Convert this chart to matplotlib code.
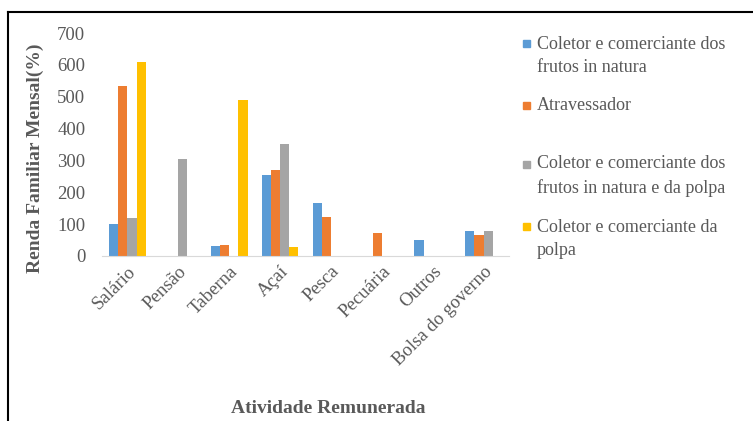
import matplotlib.pyplot as plt
import numpy as np
from matplotlib.lines import Line2D
from matplotlib.patches import Rectangle

plt.rcParams['font.family'] = ['Liberation Serif', 'DejaVu Serif']

categorias = ['Salário', 'Pensão', 'Taberna', 'Açaí', 'Pesca', 'Pecuária', 'Outros', 'Bolsa do governo']
series = ['Coletor e comerciante dos\nfrutos in natura',
          'Atravessador',
          'Coletor e comerciante dos\nfrutos in natura e da polpa',
          'Coletor e comerciante da\npolpa']
in_natura = [100, 0, 31, 253, 165, 0, 50, 78]
atravessador = [533, 0, 36, 271, 122, 73, 0, 66]
natura_polpa = [119, 304, 0, 353, 0, 0, 0, 78]
polpa = [608, 0, 490, 27, 0, 0, 0, 0]
cores = ['#5B9BD5', '#ED7D31', '#A5A5A5', '#FFC000']
cinza = '#595959'

W, H = 753, 421
fig = plt.figure(figsize=(W / 100, H / 100), dpi=100)
# eixo: x de 102 a 509 px, y de 33 a 256 px (a partir do topo)
ax = fig.add_axes([102 / W, 1 - 256 / H, 407 / W, 223 / H])

x = np.arange(len(categorias))
w = 0.18
valores = [in_natura, atravessador, natura_polpa, polpa]
for i, (v, c) in enumerate(zip(valores, cores)):
    ax.bar(x + (i - 1.5) * w, v, w, color=c, label=series[i])

ax.set_xlim(-0.5, len(categorias) - 0.5)
ax.set_ylim(0, 700)
ax.set_yticks(range(0, 701, 100))
ax.set_xticks(x)
ax.set_xticklabels(categorias, rotation=45, ha='right', rotation_mode='anchor',
                   fontsize=13.5, color=cinza)
ax.tick_params(axis='y', labelsize=13.5, labelcolor=cinza, length=0, pad=12)
ax.tick_params(axis='x', length=0, pad=5)
for s in ['top', 'right', 'left']:
    ax.spines[s].set_visible(False)
ax.spines['bottom'].set_color('#D9D9D9')

ax.set_ylabel('Renda Familiar Mensal(%)', fontsize=14, fontweight='bold', color=cinza,
              va='center', ha='center')
ax.yaxis.set_label_coords(-0.165, 0.44)
ax.set_xlabel('Atividade Remunerada', fontsize=14, fontweight='bold', color=cinza,
              va='baseline', ha='center')
ax.xaxis.set_label_coords(0.555, -0.704)

# legenda (estilo Excel, feita a mão); yb = linha de base da 1a linha, em px
linhas_base = [48, 110, 169, 231]
passo = 24
for nome, cor, yb in zip(series, cores, linhas_base):
    ultima = yb + nome.count('\n') * passo
    fig.text(537 / W, 1 - ultima / H, nome, fontsize=13, color=cinza, va='baseline',
             ha='left', linespacing=1.48)
    fig.add_artist(Rectangle((523 / W, 1 - (yb - 1) / H), 7 / W, 7 / H,
                             color=cor, transform=fig.transFigure))

# moldura
fig.add_artist(Line2D([8 / W, 1.0], [1 - 12 / H, 1 - 12 / H], color='black', lw=1.5))
fig.add_artist(Line2D([8 / W, 8 / W], [0.0, 1 - 12 / H], color='black', lw=1.5))

fig.savefig('out.png', dpi=100)
